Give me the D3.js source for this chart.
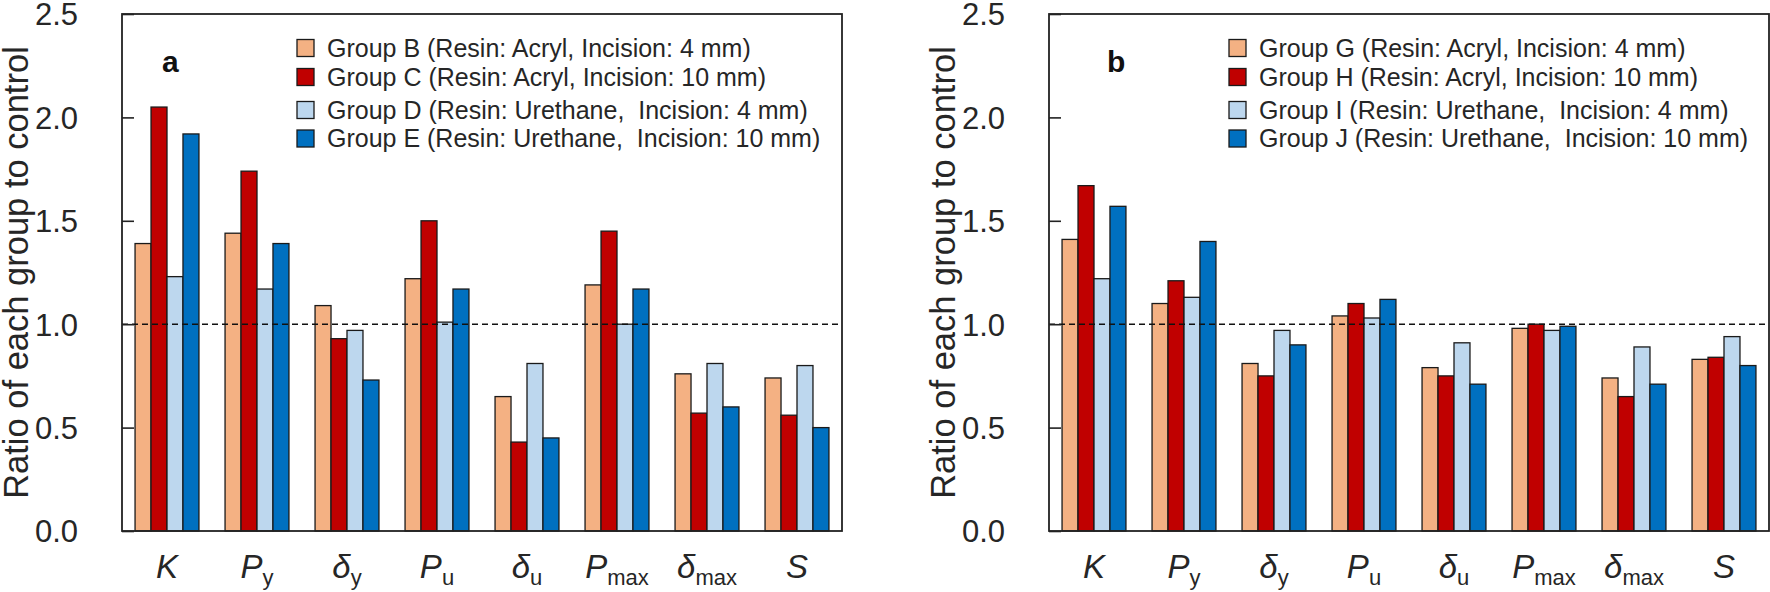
<!DOCTYPE html>
<html>
<head>
<meta charset="utf-8">
<script src="https://cdn.jsdelivr.net/npm/d3@7"></script>
<style>
  html, body { margin: 0; padding: 0; background: #fff; }
  svg { display: block; font-family: "Liberation Sans", Arial, sans-serif; }
</style>
</head>
<body>
<svg id="chart" width="1770" height="592"></svg>
<script>
// ---------- data ----------
const catMain = ["K", "P", "δ", "P", "δ", "P", "δ", "S"];
const catSub  = ["", "y", "y", "u", "u", "max", "max", ""];
const categories = ["K", "Py", "δy", "Pu", "δu", "Pmax", "δmax", "S"];
const yTicks = [0.0, 0.5, 1.0, 1.5, 2.0, 2.5];

// panel a
const seriesA = [
  "Group B (Resin: Acryl, Incision: 4 mm)",
  "Group C (Resin: Acryl, Incision: 10 mm)",
  "Group D (Resin: Urethane,  Incision: 4 mm)",
  "Group E (Resin: Urethane,  Incision: 10 mm)"
];
const groupB = [1.39, 1.44, 1.09, 1.22, 0.65, 1.19, 0.76, 0.74];
const groupC = [2.05, 1.74, 0.93, 1.50, 0.43, 1.45, 0.57, 0.56];
const groupD = [1.23, 1.17, 0.97, 1.01, 0.81, 1.00, 0.81, 0.80];
const groupE = [1.92, 1.39, 0.73, 1.17, 0.45, 1.17, 0.60, 0.50];

// panel b
const seriesB = [
  "Group G (Resin: Acryl, Incision: 4 mm)",
  "Group H (Resin: Acryl, Incision: 10 mm)",
  "Group I (Resin: Urethane,  Incision: 4 mm)",
  "Group J (Resin: Urethane,  Incision: 10 mm)"
];
const groupG = [1.41, 1.10, 0.81, 1.04, 0.79, 0.98, 0.74, 0.83];
const groupH = [1.67, 1.21, 0.75, 1.10, 0.75, 1.00, 0.65, 0.84];
const groupI = [1.22, 1.13, 0.97, 1.03, 0.91, 0.97, 0.89, 0.94];
const groupJ = [1.57, 1.40, 0.90, 1.12, 0.71, 0.99, 0.71, 0.80];

const colors = ["#F4B183", "#C00000", "#BDD7EE", "#0070C0"];

// ---------- drawing ----------
const svg = d3.select("#chart");
const H_TOP = 14, H_BOT = 531;
const textColor = "#262626";

function drawPanel(opts) {
  const { left, right, series, values, label, labelX, titleX } = opts;
  const g = svg.append("g");

  const x = d3.scaleBand().domain(categories).range([left, right])
    .paddingInner(0.29).paddingOuter(0.145);
  const xs = d3.scaleBand().domain(d3.range(series.length)).range([0, x.bandwidth()]);
  const y = d3.scaleLinear().domain([0, 2.5]).range([H_BOT, H_TOP]);

  // bars
  series.forEach((s, si) => {
    g.append("g").selectAll("rect")
      .data(values[si].map((v, i) => ({ c: categories[i], v })))
      .join("rect")
      .attr("x", d => x(d.c) + xs(si))
      .attr("y", d => y(d.v))
      .attr("width", xs.bandwidth())
      .attr("height", d => y(0) - y(d.v))
      .attr("fill", colors[si])
      .attr("stroke", "#1a1a1a")
      .attr("stroke-width", 1.3);
  });

  // dashed reference at 1.0
  g.append("line")
    .attr("x1", left).attr("x2", right)
    .attr("y1", y(1)).attr("y2", y(1))
    .attr("stroke", "#111").attr("stroke-width", 1.6)
    .attr("stroke-dasharray", "6,4");

  // frame
  g.append("rect")
    .attr("x", left).attr("y", H_TOP)
    .attr("width", right - left).attr("height", H_BOT - H_TOP)
    .attr("fill", "none").attr("stroke", "#222").attr("stroke-width", 1.8);

  // y axis: inward ticks, labels outside
  const yAxis = d3.axisLeft(y).tickValues(yTicks).tickFormat(d3.format(".1f"))
    .tickSize(-12).tickPadding(44);
  const ya = g.append("g").attr("transform", `translate(${left},0)`).call(yAxis);
  ya.select(".domain").remove();
  ya.selectAll(".tick line").attr("stroke", "#222").attr("stroke-width", 1.6);
  ya.selectAll(".tick text")
    .attr("font-size", 31).attr("fill", textColor)
    .attr("font-family", "Liberation Sans, Arial, sans-serif")
    .attr("dy", "0.35em");

  // y title
  g.append("text")
    .attr("transform", `translate(${titleX},${(H_TOP + H_BOT) / 2}) rotate(-90)`)
    .attr("text-anchor", "middle")
    .attr("font-size", 34.5).attr("fill", textColor)
    .text("Ratio of each group to control");

  // x labels
  const xl = g.append("g").selectAll("text")
    .data(categories.map((c, i) => ({ c, m: catMain[i], s: catSub[i] })))
    .join("text")
    .attr("x", d => x(d.c) + x.bandwidth() / 2)
    .attr("y", 578)
    .attr("text-anchor", "middle")
    .attr("fill", textColor);
  xl.append("tspan").attr("font-size", 33).attr("font-style", "italic").text(d => d.m);
  xl.append("tspan").attr("font-size", 22).attr("dy", 7).text(d => d.s);

  // panel letter
  g.append("text")
    .attr("x", labelX).attr("y", 72)
    .attr("font-size", 30).attr("font-weight", "bold").attr("fill", "#111")
    .text(label);

  // legend
  const rowsY = [48, 77, 110, 138.5];
  const lg = g.append("g");
  series.forEach((s, si) => {
    lg.append("rect")
      .attr("x", opts.legX).attr("y", rowsY[si] - 8.5)
      .attr("width", 17).attr("height", 17)
      .attr("fill", colors[si]).attr("stroke", "#1a1a1a").attr("stroke-width", 1.3);
    lg.append("text")
      .attr("x", opts.legX + 30).attr("y", rowsY[si] + 8.5)
      .attr("font-size", 25).attr("fill", textColor)
      .attr("xml:space", "preserve")
      .style("white-space", "pre")
      .text(s);
  });
}

drawPanel({
  left: 122, right: 842,
  series: seriesA, values: [groupB, groupC, groupD, groupE],
  label: "a", labelX: 162, titleX: 28, legX: 297
});
drawPanel({
  left: 1049, right: 1769,
  series: seriesB, values: [groupG, groupH, groupI, groupJ],
  label: "b", labelX: 1107, titleX: 955, legX: 1229
});
</script>
</body>
</html>
